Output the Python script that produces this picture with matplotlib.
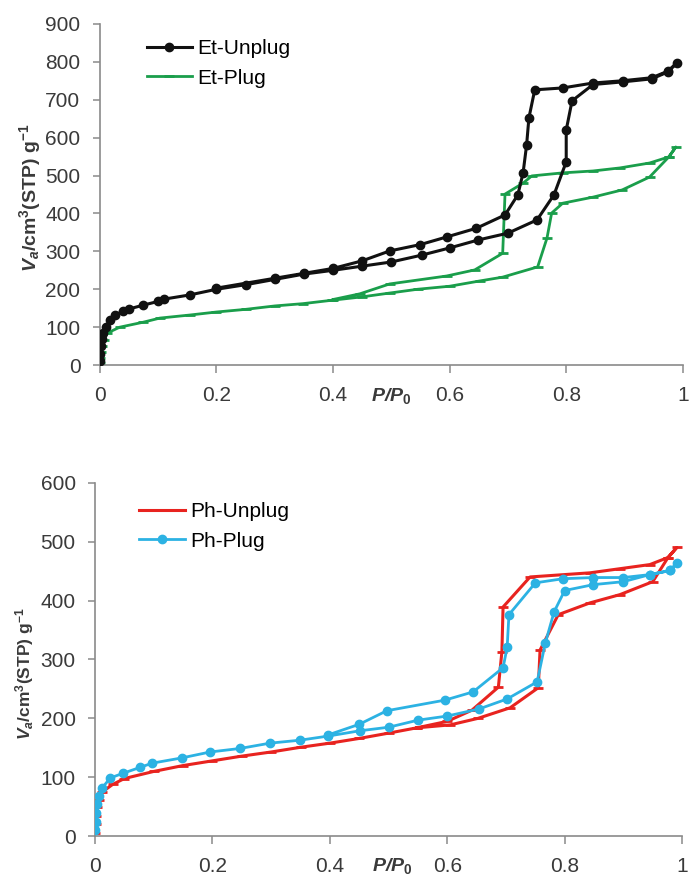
import matplotlib
matplotlib.use('Agg')
import matplotlib.pyplot as plt

plt.rcParams['font.family'] = 'Liberation Sans'
plt.rcParams['mathtext.fontset'] = 'custom'
plt.rcParams['mathtext.rm'] = 'Liberation Sans:bold'
plt.rcParams['mathtext.it'] = 'Liberation Sans:italic:bold'
plt.rcParams['mathtext.bf'] = 'Liberation Sans:bold'

# Et-Unplug (adsorption then desorption)
et_unplug_x = [0.0005, 0.001, 0.002, 0.003, 0.005, 0.01, 0.017, 0.026, 0.04, 0.05, 0.074, 0.1, 0.11,
               0.154, 0.2, 0.25, 0.3, 0.35, 0.4, 0.45, 0.5, 0.552, 0.6, 0.649, 0.7, 0.75, 0.779, 0.8,
               0.8, 0.81, 0.846, 0.897, 0.947, 0.974, 0.99,
               0.974, 0.947, 0.897, 0.846, 0.794, 0.746, 0.736, 0.732, 0.726, 0.717, 0.695, 0.646,
               0.595, 0.55, 0.497, 0.45, 0.4, 0.35, 0.3, 0.2]
et_unplug_y = [10, 30, 50, 70, 85, 100, 118, 132, 142, 148, 158, 168, 174,
               185, 200, 212, 226, 240, 250, 261, 272, 290, 309, 330, 348, 383, 449, 536,
               620, 697, 740, 747, 755, 773, 797,
               775, 758, 750, 744, 731, 726, 652, 580, 507, 449, 396, 361,
               338, 318, 301, 275, 255, 242, 229, 203]

# Et-Plug
et_plug_x = [0.0005, 0.001, 0.002, 0.004, 0.007, 0.012, 0.034, 0.074, 0.103, 0.154, 0.2, 0.25, 0.3,
             0.348, 0.398, 0.45, 0.497, 0.545, 0.6, 0.652, 0.691, 0.751, 0.767, 0.775, 0.794, 0.846,
             0.896, 0.943, 0.976, 0.988,
             0.976, 0.943, 0.892, 0.846, 0.794, 0.741, 0.726, 0.695, 0.691, 0.643, 0.595, 0.497,
             0.446, 0.4]
et_plug_y = [5, 20, 35, 50, 65, 84, 100, 113, 124, 132, 140, 147, 156,
             162, 171, 180, 190, 200, 208, 222, 232, 259, 335, 401, 427, 443,
             462, 496, 549, 575,
             549, 533, 520, 512, 507, 499, 480, 451, 295, 251, 235, 214,
             188, 173]

# Ph-Unplug
ph_unplug_x = [0.0005, 0.001, 0.002, 0.004, 0.007, 0.012, 0.03, 0.05, 0.1, 0.15, 0.2, 0.25, 0.3, 0.35,
               0.4, 0.45, 0.5, 0.548, 0.605, 0.652, 0.707, 0.755, 0.758, 0.789, 0.843, 0.894, 0.95,
               0.976, 0.991,
               0.976, 0.945, 0.894, 0.843, 0.741, 0.695, 0.693, 0.687, 0.642, 0.6, 0.548]
ph_unplug_y = [5, 20, 35, 50, 62, 75, 88, 98, 110, 120, 128, 136, 143, 151,
               158, 166, 175, 184, 189, 200, 218, 252, 316, 376, 396, 410, 432,
               473, 490,
               473, 461, 454, 447, 440, 389, 313, 253, 214, 195, 184]

# Ph-Plug
ph_plug_x = [0.0005, 0.001, 0.002, 0.003, 0.006, 0.012, 0.026, 0.048, 0.077, 0.097, 0.148, 0.196, 0.247,
             0.298, 0.349, 0.397, 0.451, 0.5, 0.55, 0.6, 0.654, 0.702, 0.753, 0.767, 0.782, 0.8,
             0.849, 0.9, 0.945, 0.98, 0.991,
             0.98, 0.945, 0.9, 0.849, 0.797, 0.75, 0.705, 0.702, 0.695, 0.644, 0.596, 0.497, 0.45,
             0.397]
ph_plug_y = [10, 25, 40, 55, 68, 82, 99, 107, 117, 124, 133, 143, 149,
             158, 163, 170, 179, 185, 197, 204, 216, 233, 262, 328, 381, 417,
             427, 432, 444, 451, 464,
             451, 444, 439, 439, 437, 430, 376, 321, 286, 245, 231, 213, 190,
             172]

xticks = [0, 0.2, 0.4, 0.6, 0.8, 1]
xtick_labels = ['0', '0.2', '0.4', '0.6', '0.8', '1']

black = '#111111'
green = '#1a9e4b'
red = '#e8231f'
blue = '#2cb2e3'
spine_gray = '#8a8a8a'
text_gray = '#3a3a3a'

fig = plt.figure(figsize=(6.89, 8.84), dpi=100)
ax1 = fig.add_axes([0.145, 0.587, 0.846, 0.386])
ax2 = fig.add_axes([0.138, 0.054, 0.852, 0.400])


def style_axes(ax, ymax, ystep, xlab_pos, ylab_y, ylab_size):
    for s in ['top', 'right']:
        ax.spines[s].set_visible(False)
    for s in ['left', 'bottom']:
        ax.spines[s].set_color(spine_gray)
        ax.spines[s].set_linewidth(1.2)
    ax.set_xlim(0, 1)
    ax.set_ylim(0, ymax)
    ax.set_xticks(xticks)
    ax.set_xticklabels(xtick_labels)
    ax.set_yticks(range(0, ymax + 1, ystep))
    ax.tick_params(axis='x', direction='out', length=6, width=1.1, color=spine_gray,
                   labelsize=15, labelcolor=text_gray, pad=9)
    ax.tick_params(axis='y', direction='out', length=5, width=1.1, color=spine_gray,
                   labelsize=15, labelcolor=text_gray, pad=9)
    ax.text(xlab_pos[0], xlab_pos[1], 'P/P$_0$', transform=ax.transAxes, fontsize=14,
            fontweight='bold', fontstyle='italic', ha='center', va='center', color=text_gray)
    ax.text(-0.12, ylab_y, r'$V_a$/cm$^{3}$(STP) g$^{-1}$', transform=ax.transAxes,
            fontsize=ylab_size, fontweight='bold', rotation=90, ha='center', va='center',
            color=text_gray)


ax1.plot(et_unplug_x, et_unplug_y, color=black, lw=2.2, marker='o', markersize=6,
         label='Et-Unplug', zorder=3)
ax1.plot(et_plug_x, et_plug_y, color=green, lw=2.0, marker='_', markersize=7,
         markeredgewidth=2, label='Et-Plug', zorder=2)
style_axes(ax1, 900, 100, (0.50, -0.092), 0.49, 14)
ax1.legend(loc='upper left', bbox_to_anchor=(0.08, 0.955), frameon=False, fontsize=15,
           handlelength=2.2, handletextpad=0.25, labelspacing=0.5, borderpad=0,
           borderaxespad=0)

ax2.plot(ph_unplug_x, ph_unplug_y, color=red, lw=2.2, marker='_', markersize=7,
         markeredgewidth=2, label='Ph-Unplug', zorder=2)
ax2.plot(ph_plug_x, ph_plug_y, color=blue, lw=2.0, marker='o', markersize=6,
         label='Ph-Plug', zorder=3)
style_axes(ax2, 600, 100, (0.506, -0.085), 0.46, 12.5)
ax2.legend(loc='upper left', bbox_to_anchor=(0.075, 0.945), frameon=False, fontsize=15,
           handlelength=2.2, handletextpad=0.25, labelspacing=0.5, borderpad=0,
           borderaxespad=0)

fig.savefig('out.png', dpi=100)
